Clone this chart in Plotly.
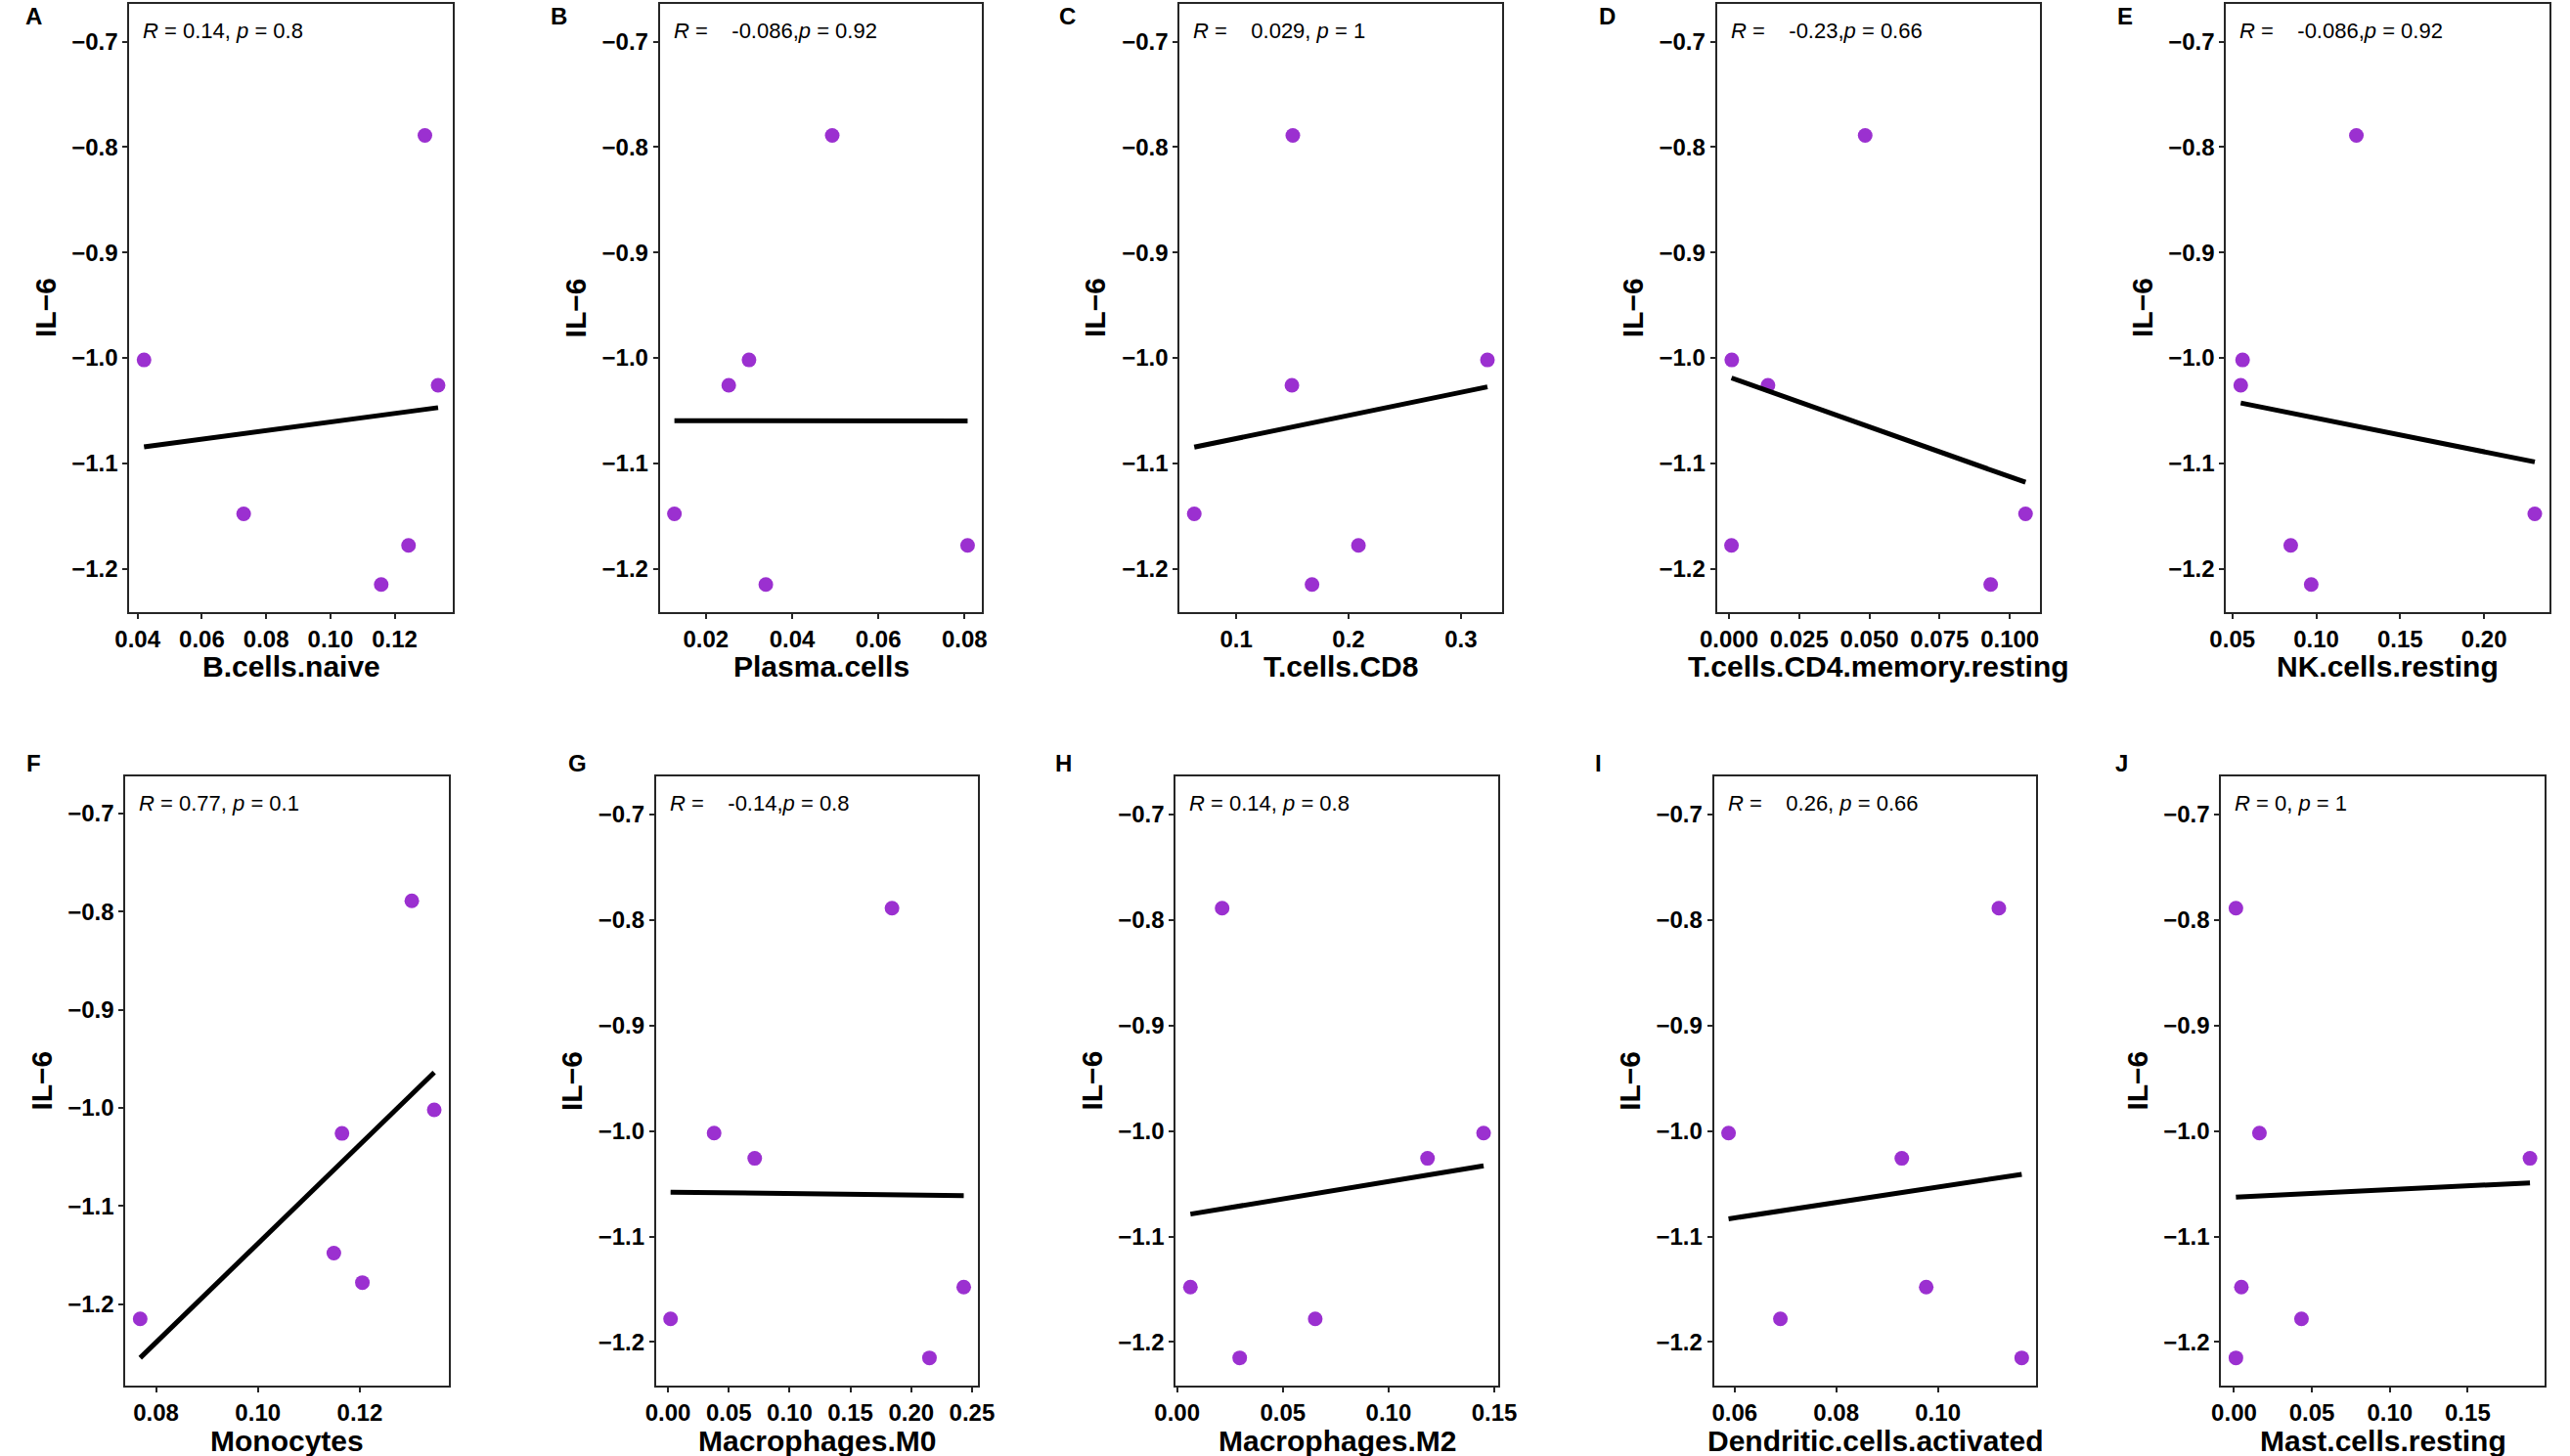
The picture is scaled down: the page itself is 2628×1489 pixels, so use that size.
import numpy as np
import plotly.graph_objects as go
from plotly.subplots import make_subplots

# IL-6 expression for the six samples (same for every panel)
il6 = [-0.789, -1.002, -1.026, -1.148, -1.178, -1.215]

# immune cell fractions, one value per sample, same sample order as il6
b_cells_naive = [0.1294, 0.0420, 0.1335, 0.0730, 0.1243, 0.1158]
plasma_cells = [0.0493, 0.0300, 0.0253, 0.0127, 0.0807, 0.0339]
t_cells_cd8 = [0.1504, 0.3236, 0.1496, 0.0627, 0.2088, 0.1675]
t_cells_cd4_mem = [0.0485, 0.0010, 0.0139, 0.1056, 0.0009, 0.0932]
nk_cells_resting = [0.1239, 0.0561, 0.0550, 0.2302, 0.0848, 0.0970]
monocytes = [0.1302, 0.1346, 0.1165, 0.1149, 0.1205, 0.0769]
macrophages_m0 = [0.1842, 0.0379, 0.0713, 0.2432, 0.0021, 0.2150]
macrophages_m2 = [0.0213, 0.1449, 0.1184, 0.0063, 0.0653, 0.0296]
dendritic_act = [0.1120, 0.0588, 0.0929, 0.0977, 0.0690, 0.1165]
mast_cells_resting = [0.0012, 0.0163, 0.1900, 0.0047, 0.0433, 0.0012]

cell_names = ['B.cells.naive', 'Plasma.cells', 'T.cells.CD8',
              'T.cells.CD4.memory.resting', 'NK.cells.resting',
              'Monocytes', 'Macrophages.M0', 'Macrophages.M2',
              'Dendritic.cells.activated', 'Mast.cells.resting']
cell_values = [b_cells_naive, plasma_cells, t_cells_cd8, t_cells_cd4_mem,
               nk_cells_resting, monocytes, macrophages_m0, macrophages_m2,
               dendritic_act, mast_cells_resting]
panel_letters = ['A', 'B', 'C', 'D', 'E', 'F', 'G', 'H', 'I', 'J']

NB = '\u00a0'
cor_labels = [
    '<i>R</i> = 0.14, <i>p</i> = 0.8',
    '<i>R</i> =' + NB * 4 + '-0.086,<i>p</i> = 0.92',
    '<i>R</i> =' + NB * 4 + '0.029, <i>p</i> = 1',
    '<i>R</i> =' + NB * 4 + '-0.23,<i>p</i> = 0.66',
    '<i>R</i> =' + NB * 4 + '-0.086,<i>p</i> = 0.92',
    '<i>R</i> = 0.77, <i>p</i> = 0.1',
    '<i>R</i> =' + NB * 4 + '-0.14,<i>p</i> = 0.8',
    '<i>R</i> = 0.14, <i>p</i> = 0.8',
    '<i>R</i> =' + NB * 4 + '0.26, <i>p</i> = 0.66',
    '<i>R</i> = 0, <i>p</i> = 1',
]
label_y = -0.69

# x tick spacing and format for each panel
x_dticks = [0.02, 0.02, 0.1, 0.025, 0.05, 0.02, 0.05, 0.05, 0.02, 0.05]
x_formats = ['.2f', '.2f', '.1f', '.3f', '.2f', '.2f', '.2f', '.2f', '.2f', '.2f']

W, H = 2628, 1489
FONT = 'Liberation Sans, Arial, sans-serif'
PURPLE = '#9b30d0'

# plot box edges in pixels (left, right) per row, and (top, bottom) per row
box_x = [[(112, 448), (663, 998), (1203, 1538), (1761, 2097), (2290, 2626)],
         [(108, 444), (659, 994), (1199, 1534), (1758, 2093), (2285, 2621)]]
box_y = [(3.5, 626), (793.5, 1417)]
letter_x = [[2, 548, 1076, 1637, 2175], [3, 566, 1072, 1632, 2173]]
letter_y = [16, 781]


def fit_line(x, y):
    slope, intercept = np.polyfit(x, y, 1)
    xs = np.array([min(x), max(x)])
    return xs, intercept + slope * xs


def main():
    fig = make_subplots(rows=2, cols=5)
    for i in range(len(cell_names)):
        row = i // 5 + 1
        col = i % 5 + 1
        x = cell_values[i]
        xs, ys = fit_line(x, il6)

        fig.add_trace(go.Scatter(x=x, y=il6, mode='markers', showlegend=False,
                                 marker=dict(size=15, color=PURPLE)),
                      row=row, col=col)
        fig.add_trace(go.Scatter(x=xs, y=ys, mode='lines', showlegend=False,
                                 line=dict(color='black', width=5)),
                      row=row, col=col)

        # ggplot style 5% expansion around data
        x_span = max(x) - min(x)
        x_range = [min(x) - 0.05 * x_span, max(x) + 0.05 * x_span]
        y_lo = min(min(il6), min(ys))
        y_span = label_y - y_lo
        y_range = [y_lo - 0.05 * y_span, label_y + 0.05 * y_span]

        left, right = box_x[row - 1][col - 1]
        top, bottom = box_y[row - 1]
        axis_style = dict(showline=True, mirror=True, linecolor='#262626',
                          linewidth=1.8, ticks='outside', ticklen=5,
                          tickwidth=1.8, tickcolor='#262626', showgrid=False,
                          zeroline=False,
                          tickfont=dict(family=FONT, size=24, color='black',
                                        weight='bold'))
        fig.update_xaxes(domain=[left / W, right / W], range=x_range,
                         dtick=x_dticks[i], tick0=0,
                         tickformat=x_formats[i], row=row, col=col,
                         **axis_style)
        fig.update_yaxes(domain=[1 - bottom / H, 1 - top / H], range=y_range,
                         dtick=0.1, tick0=0, tickformat='.1f',
                         row=row, col=col, **axis_style)

        fig.add_annotation(x=min(x), y=label_y, text=cor_labels[i],
                           showarrow=False, xanchor='left', yanchor='middle',
                           xshift=-3, font=dict(family=FONT, size=22,
                                                color='black'),
                           row=row, col=col)
        fig.add_annotation(xref='x domain', yref='y domain', x=0.5, y=0,
                           yshift=-56, text=cell_names[i], showarrow=False,
                           xanchor='center', yanchor='middle',
                           font=dict(family=FONT, size=30, color='black',
                                     weight='bold'),
                           row=row, col=col)
        fig.add_annotation(xref='x domain', yref='y domain', x=0, y=0.5,
                           xshift=-86, text='IL\u22126', textangle=-90,
                           showarrow=False, xanchor='center', yanchor='middle',
                           font=dict(family=FONT, size=30, color='black',
                                     weight='bold'),
                           row=row, col=col)
        fig.add_annotation(xref='paper', yref='paper',
                           x=letter_x[row - 1][col - 1] / W,
                           y=1 - letter_y[row - 1] / H, text=panel_letters[i],
                           showarrow=False, xanchor='left', yanchor='middle',
                           font=dict(family=FONT, size=24, color='black',
                                     weight='bold'))

    fig.update_layout(width=W, height=H, autosize=False,
                      margin=dict(l=0, r=0, t=0, b=0),
                      paper_bgcolor='white', plot_bgcolor='white',
                      showlegend=False)
    # the page body has a default 8px margin, drop it so the figure fills the window
    fig.write_html("out.html", config={'displayModeBar': False},
                   post_script="document.body.style.margin='0';"
                               "document.body.style.overflow='hidden';")


if __name__ == "__main__":
    main()
